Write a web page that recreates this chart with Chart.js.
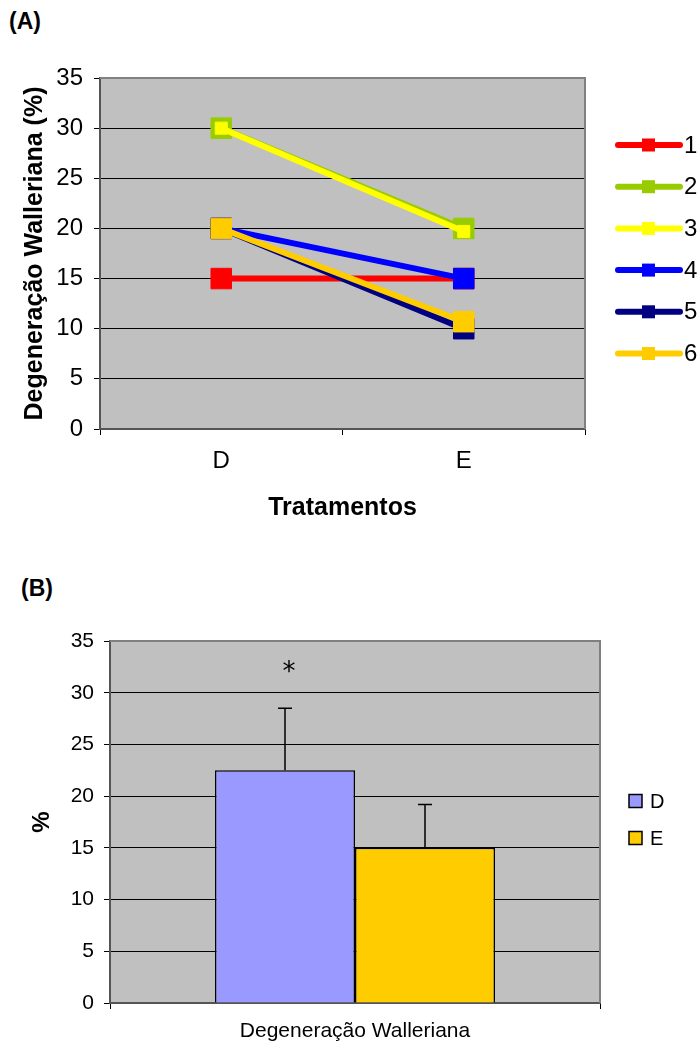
<!DOCTYPE html>
<html>
<head>
<meta charset="utf-8">
<script src="https://cdn.jsdelivr.net/npm/chart.js@4"></script>
<style>
  body { margin: 0; background: #fff; width: 699px; height: 1044px; position: relative; overflow: hidden; }
  canvas { position: absolute; left: 0; }
  .tag { position: absolute; font: bold 23px 'Liberation Sans', Arial, sans-serif; color: #000; }
</style>
</head>
<body>
<div class="tag" style="left:9px; top:8px;">(A)</div>
<canvas id="chartA" width="699" height="540" style="top:0;"></canvas>
<div class="tag" style="left:21px; top:575px;">(B)</div>
<canvas id="chartB" width="699" height="484" style="top:560px;"></canvas>
<script>
// grafico (A): cada animal, D e E
const tratamentos = ['D', 'E'];
const serieNomes = ['1', '2', '3', '4', '5', '6'];
const serie1 = [15, 15];
const serie2 = [30, 20];
const serie3 = [30, 19.7];
const serie4 = [20, 15];
const serie5 = [20, 10];
const serie6 = [20, 10.7];
const serieCores = ['#FF0000', '#99CC00', '#FFFF00', '#0000FF', '#000080', '#FFCC00'];

// grafico (B): medias e erro
const categoriaB = ['Degeneração Walleriana'];
const mediaD = [22.5];
const mediaE = [15];
const erroD = [6.0];
const erroE = [4.2];

Chart.defaults.font.family = "'Liberation Sans', Arial, sans-serif";
Chart.defaults.color = '#000';

const fundoCinza = {
  id: 'fundoCinza',
  beforeDraw(chart) {
    const a = chart.chartArea;
    const ctx = chart.ctx;
    ctx.save();
    ctx.fillStyle = '#C0C0C0';
    ctx.fillRect(a.left, a.top, a.right - a.left, a.bottom - a.top);
    ctx.restore();
  },
  beforeDatasetsDraw(chart) {
    const a = chart.chartArea;
    const ctx = chart.ctx;
    ctx.save();
    ctx.strokeStyle = '#808080';
    ctx.lineWidth = 2;
    ctx.beginPath();
    ctx.moveTo(a.left, a.top);
    ctx.lineTo(a.right, a.top);
    ctx.lineTo(a.right, a.bottom);
    ctx.stroke();
    ctx.restore();
  }
};

// legenda de linhas com marcador quadrado
const legendaLinhas = {
  id: 'legendaLinhas',
  afterDraw(chart) {
    const ctx = chart.ctx;
    ctx.save();
    chart.data.datasets.forEach(function (ds, i) {
      const y = 145 + i * 41.7;
      ctx.strokeStyle = ds.borderColor;
      ctx.lineWidth = 6;
      ctx.lineCap = 'round';
      ctx.beginPath();
      ctx.moveTo(618, y);
      ctx.lineTo(680, y);
      ctx.stroke();
      ctx.fillStyle = ds.borderColor;
      ctx.fillRect(642, y - 6.5, 13, 13);
      ctx.fillStyle = '#000';
      ctx.font = "24px 'Liberation Sans', Arial, sans-serif";
      ctx.textBaseline = 'middle';
      ctx.fillText(ds.label, 684, y + 1);
    });
    ctx.restore();
  }
};

const seriesA = [serie1, serie2, serie3, serie4, serie5, serie6];
const datasetsA = seriesA.map(function (valores, i) {
  return {
    label: serieNomes[i],
    data: valores,
    borderColor: serieCores[i],
    backgroundColor: serieCores[i],
    borderWidth: 6,
    pointStyle: 'rect',
    pointRadius: i === 2 ? 8.5 : 14.5,
    pointBorderWidth: 1,
    pointBorderColor: serieCores[i],
    pointBackgroundColor: serieCores[i],
    order: -i,
  };
});

new Chart(document.getElementById('chartA'), {
  type: 'line',
  data: { labels: tratamentos, datasets: datasetsA },
  options: {
    responsive: false,
    animation: false,
    layout: { padding: { top: 78, right: 114, bottom: 0, left: 0 } },
    plugins: { legend: { display: false }, tooltip: { enabled: false } },
    scales: {
      x: {
        offset: true,
        grid: { drawOnChartArea: false, offset: true, tickLength: 6, color: '#000' },
        border: { color: '#555', width: 2 },
        ticks: { font: { size: 24 }, color: '#000', padding: 12 },
        title: { display: true, text: 'Tratamentos', font: { size: 25, weight: 'bold' }, padding: { top: 0, bottom: 17 } },
        afterFit(s) { s.height = 111; }
      },
      y: {
        min: 0,
        max: 35,
        ticks: { stepSize: 5, font: { size: 24 }, color: '#000', padding: 11 },
        grid: { color: '#000', tickLength: 6 },
        border: { color: '#555', width: 2 },
        title: { display: true, text: 'Degeneração Walleriana (%)', font: { size: 25, weight: 'bold' }, padding: { top: 20, bottom: 0 } },
        afterFit(s) { s.width = 100; }
      }
    }
  },
  plugins: [fundoCinza, legendaLinhas]
});

// barras de erro (so para cima) e asterisco
const barrasErro = {
  id: 'barrasErro',
  afterDatasetsDraw(chart) {
    const ctx = chart.ctx;
    const y = chart.scales.y;
    const erros = [erroD, erroE];
    ctx.save();
    ctx.strokeStyle = '#000';
    ctx.lineWidth = 1.5;
    chart.data.datasets.forEach(function (ds, i) {
      const bar = chart.getDatasetMeta(i).data[0];
      const topo = y.getPixelForValue(ds.data[0] + erros[i][0]);
      ctx.beginPath();
      ctx.moveTo(bar.x, bar.y);
      ctx.lineTo(bar.x, topo);
      ctx.moveTo(bar.x - 7, topo);
      ctx.lineTo(bar.x + 7, topo);
      ctx.stroke();
    });
    const barD = chart.getDatasetMeta(0).data[0];
    ctx.fillStyle = '#000';
    ctx.font = "26px 'DejaVu Sans', sans-serif";
    ctx.textAlign = 'center';
    ctx.textBaseline = 'middle';
    ctx.fillText('*', barD.x + 4, y.getPixelForValue(32.2) + 3);
    ctx.restore();
  }
};

const legendaBarras = {
  id: 'legendaBarras',
  afterDraw(chart) {
    const ctx = chart.ctx;
    ctx.save();
    chart.data.datasets.forEach(function (ds, i) {
      const y = 241 + i * 37;
      ctx.fillStyle = ds.backgroundColor;
      ctx.fillRect(629, y - 6.5, 13, 13);
      ctx.strokeStyle = '#000';
      ctx.lineWidth = 1.5;
      ctx.strokeRect(629, y - 6.5, 13, 13);
      ctx.fillStyle = '#000';
      ctx.font = "20px 'Liberation Sans', Arial, sans-serif";
      ctx.textBaseline = 'middle';
      ctx.fillText(ds.label, 650, y + 1);
    });
    ctx.restore();
  }
};

new Chart(document.getElementById('chartB'), {
  type: 'bar',
  data: {
    labels: categoriaB,
    datasets: [
      { label: 'D', data: mediaD, backgroundColor: '#9999FF', borderColor: '#000', borderWidth: 1.5 },
      { label: 'E', data: mediaE, backgroundColor: '#FFCC00', borderColor: '#000', borderWidth: 1.5 }
    ]
  },
  options: {
    responsive: false,
    animation: false,
    categoryPercentage: 0.5714,
    barPercentage: 1,
    layout: { padding: { top: 81, right: 99, bottom: 0, left: 0 } },
    plugins: { legend: { display: false }, tooltip: { enabled: false } },
    scales: {
      x: {
        grid: { drawOnChartArea: false, offset: true, tickLength: 6, color: '#000' },
        border: { color: '#555', width: 2 },
        ticks: { font: { size: 21 }, color: '#000', padding: 10 },
        afterFit(s) { s.height = 41; }
      },
      y: {
        min: 0,
        max: 35,
        ticks: { stepSize: 5, font: { size: 21 }, color: '#000', padding: 10 },
        grid: { color: '#000', tickLength: 6 },
        border: { color: '#555', width: 2 },
        title: { display: true, text: '%', font: { size: 24, weight: 'bold' }, padding: { top: 28, bottom: 0 } },
        afterFit(s) { s.width = 110; }
      }
    }
  },
  plugins: [fundoCinza, barrasErro, legendaBarras]
});
</script>
</body>
</html>
